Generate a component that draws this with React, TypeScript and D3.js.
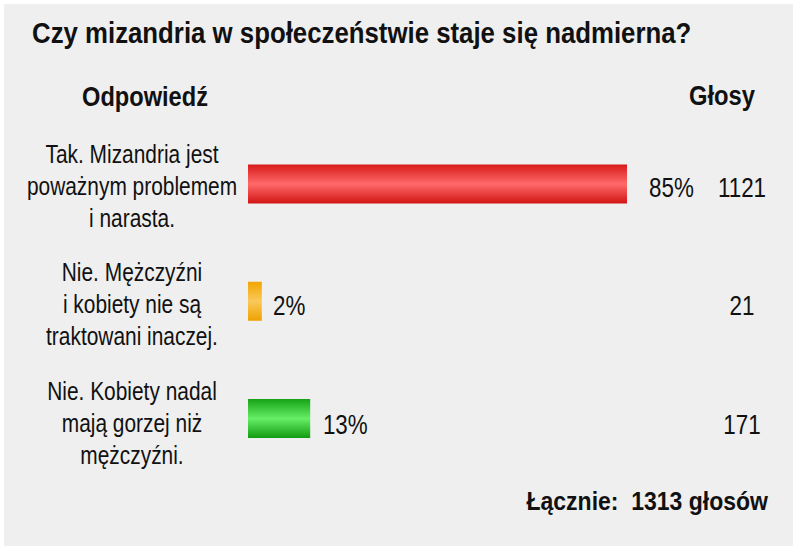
import * as d3 from "d3";

// Poll data
const title = "Czy mizandria w społeczeństwie staje się nadmierna?";
const answers: string[][] = [
  ["Tak. Mizandria jest", "poważnym problemem", "i narasta."],
  ["Nie. Mężczyźni", "i kobiety nie są", "traktowani inaczej."],
  ["Nie. Kobiety nadal", "mają gorzej niż", "mężczyźni."],
];
const votes = [1121, 21, 171];
const barColors = [
  ["#d81a1a", "#ff6a6a", "#d21414"],
  ["#f2a500", "#f9c95a", "#efa200"],
  ["#16a216", "#66ee66", "#129c12"],
];

const W = 800;
const H = 552;
const FONT = "'Liberation Sans', Arial, sans-serif";

// text squeezed horizontally to mimic a narrow face
function NText({
  x,
  y,
  sx,
  size,
  bold,
  anchor = "start",
  children,
}: {
  x: number;
  y: number;
  sx: number;
  size: number;
  bold?: boolean;
  anchor?: "start" | "middle" | "end";
  children: React.ReactNode;
}) {
  return (
    <text
      transform={`translate(${x},${y}) scale(${sx},1)`}
      fontSize={size}
      fontWeight={bold ? "bold" : "normal"}
      textAnchor={anchor}
      fill="#111"
      style={{ whiteSpace: "pre" }}
    >
      {children}
    </text>
  );
}

export default function App() {
  const total = d3.sum(votes);
  const pcts = votes.map((v) => Math.round((v / total) * 100));
  const rows = d3.range(votes.length);

  const yBar = d3.scalePoint<number>().domain(rows).range([184, 418.5]);
  const yText = d3.scalePoint<number>().domain(rows).range([196.5, 434]);

  const x = d3.scaleLinear().domain([0, 100]).range([248, 688]);
  const gap = d3.scaleLinear().domain([0, 100]).range([11, 24]);
  const barH = 39;

  return (
    <div style={{ position: "fixed", left: 0, top: 0 }}>
      <svg width={W} height={H} style={{ display: "block" }} fontFamily={FONT}>
        <defs>
          {barColors.map((c, i) => (
            <linearGradient key={i} id={`g${i}`} x1="0" y1="0" x2="0" y2="1">
              <stop offset="0" stopColor={c[0]} />
              <stop offset="0.5" stopColor={c[1]} />
              <stop offset="1" stopColor={c[2]} />
            </linearGradient>
          ))}
        </defs>
        <rect x={0} y={0} width={W} height={H} fill="#ffffff" />
        <rect x={4} y={4} width={789} height={542} fill="#efefef" />

        <NText x={32} y={43} sx={0.86} size={30} bold>
          {title}
        </NText>
        <NText x={145} y={106} sx={0.875} size={27} bold anchor="middle">
          Odpowiedź
        </NText>
        <NText x={722} y={105} sx={0.88} size={27} bold anchor="middle">
          Głosy
        </NText>

        {rows.map((i) => {
          const cy = yBar(i)!;
          const ty = yText(i)!;
          const x0 = x(0);
          const x1 = x(pcts[i]) + 5;
          return (
            <g key={i}>
              {answers[i].map((line, j) => (
                <NText key={j} x={132} y={ty - 2 + (j - 1) * 32} sx={0.82} size={25.5} anchor="middle">
                  {line}
                </NText>
              ))}
              <rect x={x0} y={cy - barH / 2} width={x1 - x0} height={barH} fill={`url(#g${i})`} />
              <NText x={x1 + gap(pcts[i])} y={ty} sx={0.8} size={28}>
                {`${pcts[i]}%`}
              </NText>
              <NText x={742} y={ty} sx={0.8} size={28} anchor="middle">
                {votes[i]}
              </NText>
            </g>
          );
        })}

        <NText x={768} y={510} sx={0.92} size={25} bold anchor="end">
          {`Łącznie:  ${total} głosów`}
        </NText>
      </svg>
    </div>
  );
}
